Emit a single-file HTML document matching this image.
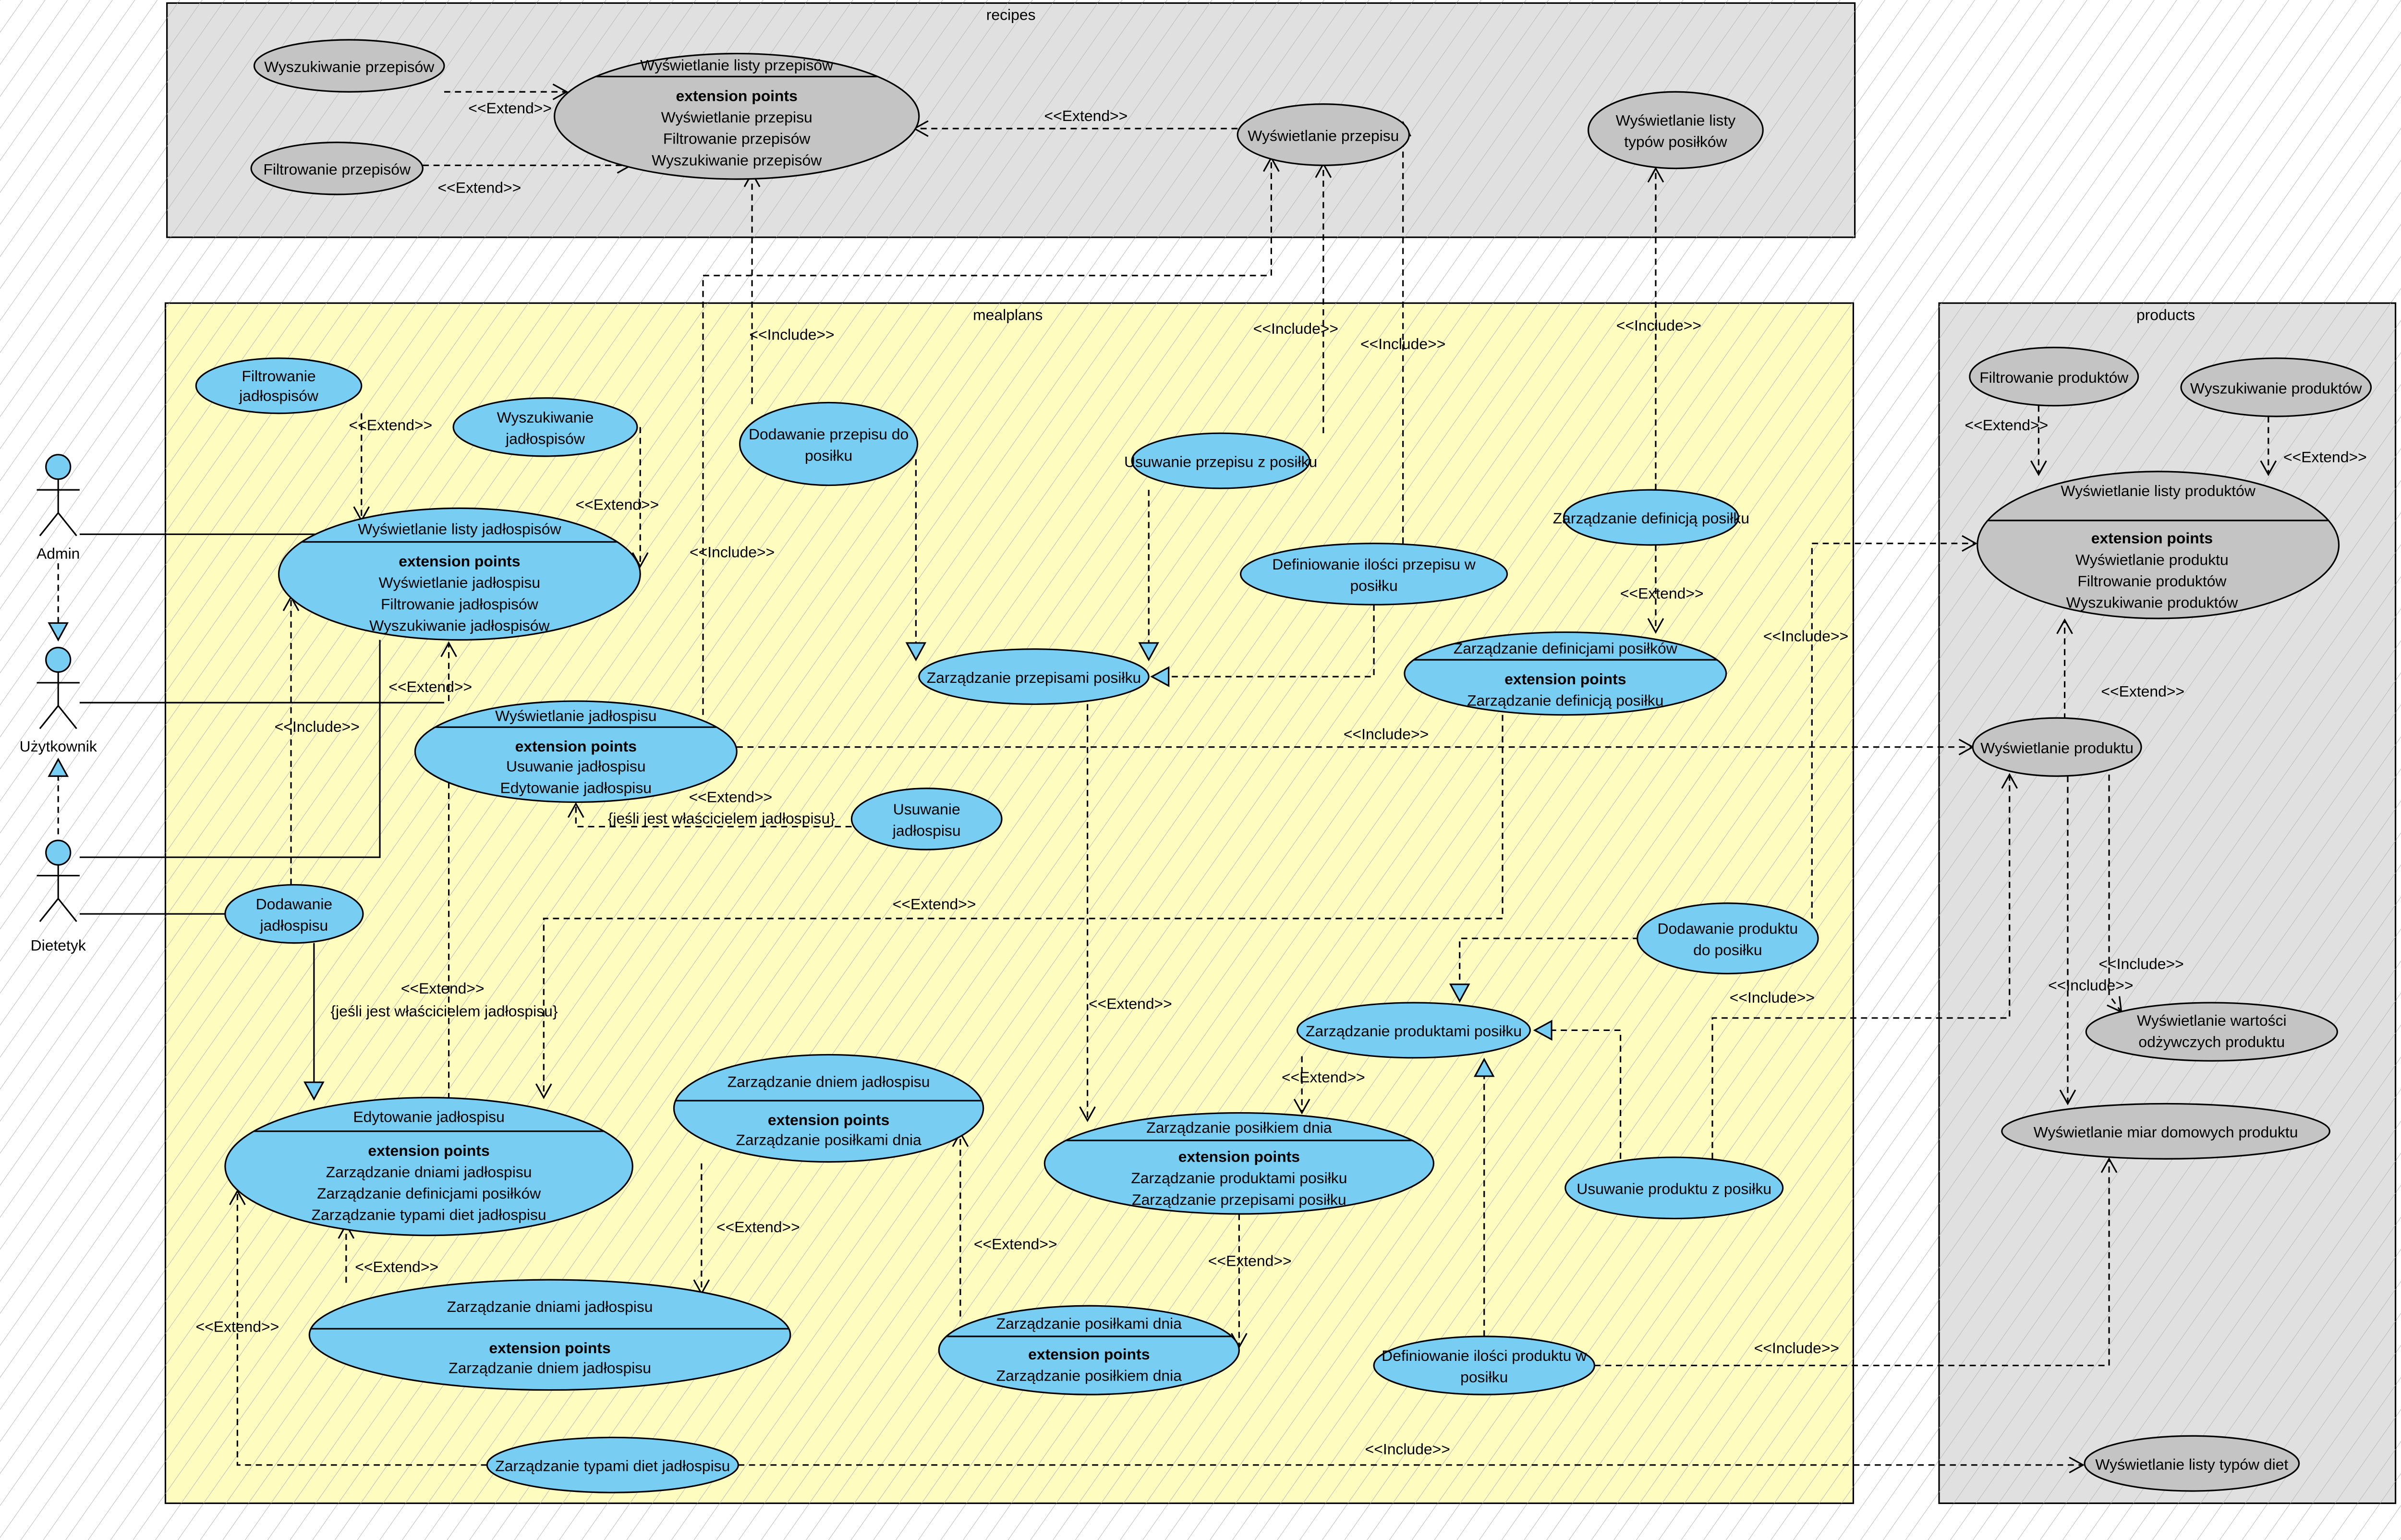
<!DOCTYPE html>
<html><head><meta charset="utf-8"><style>
html,body{margin:0;padding:0;background:#fff;}
svg{display:block;}
text{font-family:"Liberation Sans",Arial,sans-serif;font-size:10px;fill:#000;text-anchor:middle;}
.b{font-weight:bold;}
.l{stroke:#000;stroke-width:1;fill:none;}
.d{stroke:#000;stroke-width:1;fill:none;stroke-dasharray:4,3;}
.g{fill:#c4c4c4;stroke:#000;stroke-width:1;}
.u{fill:#77cdf2;stroke:#000;stroke-width:1;}
</style></head><body>
<svg width="5097" height="3207" viewBox="0 0 1598 1006" preserveAspectRatio="none" xmlns="http://www.w3.org/2000/svg">
<defs>
<pattern id="h" width="12" height="12" patternUnits="userSpaceOnUse" patternTransform="rotate(35)">
<line x1="0" y1="0" x2="0" y2="12" stroke="#b8b8b8" stroke-width="0.6"/>
</pattern>
<marker id="a" markerWidth="12" markerHeight="12" refX="10" refY="6" orient="auto" markerUnits="userSpaceOnUse">
<polyline points="1,1 10,6 1,11" fill="none" stroke="#000" stroke-width="1"/>
</marker>
<marker id="t" markerWidth="14" markerHeight="14" refX="12" refY="7" orient="auto" markerUnits="userSpaceOnUse">
<polygon points="1,1 12,7 1,13" fill="#77cdf2" stroke="#000" stroke-width="1"/>
</marker>
</defs>
<rect width="1600" height="1010" fill="#fff"/>
<rect width="1600" height="1010" fill="url(#h)"/>
<rect x="109" y="2" width="1102" height="153" fill="#e0e0e0" stroke="#000"/>
<rect x="109" y="2" width="1102" height="153" fill="url(#h)"/>
<text x="660" y="13">recipes</text>
<rect x="108" y="198" width="1102" height="784" fill="#fffcc0" stroke="#000"/>
<rect x="108" y="198" width="1102" height="784" fill="url(#h)"/>
<text x="658" y="209">mealplans</text>
<rect x="1266" y="198" width="298" height="784" fill="#e0e0e0" stroke="#000"/>
<rect x="1266" y="198" width="298" height="784" fill="url(#h)"/>
<text x="1414" y="209">products</text>

<g>
<path class="d" d="M290,60 H370" marker-end="url(#a)"/><text x="333" y="74">&lt;&lt;Extend&gt;&gt;</text>
<path class="d" d="M276,108 H412" marker-end="url(#a)"/><text x="313" y="126">&lt;&lt;Extend&gt;&gt;</text>
<path class="d" d="M808,84 H597" marker-end="url(#a)"/><text x="709" y="79">&lt;&lt;Extend&gt;&gt;</text>
<path class="d" d="M491,264 V113" marker-end="url(#a)"/><text x="517" y="222">&lt;&lt;Include&gt;&gt;</text>
<path class="d" d="M459,467 V180 H830 V103" marker-end="url(#a)"/>
<text x="478" y="364">&lt;&lt;Include&gt;&gt;</text>
<path class="d" d="M864,283 V107" marker-end="url(#a)"/><text x="846" y="218">&lt;&lt;Include&gt;&gt;</text>
<path class="d" d="M916,355 V80" marker-end="url(#a)"/><text x="916" y="228">&lt;&lt;Include&gt;&gt;</text>
<path class="d" d="M1081,320 V110" marker-end="url(#a)"/><text x="1083" y="216">&lt;&lt;Include&gt;&gt;</text>
<path class="d" d="M1081,356 V413" marker-end="url(#a)"/><text x="1085" y="391">&lt;&lt;Extend&gt;&gt;</text>
<path class="d" d="M236,270 V340" marker-end="url(#a)"/><text x="255" y="281">&lt;&lt;Extend&gt;&gt;</text>
<path class="d" d="M418,279 V370" marker-end="url(#a)"/><text x="403" y="333">&lt;&lt;Extend&gt;&gt;</text>
<path class="d" d="M598,300 V431" marker-end="url(#t)"/>
<path class="d" d="M750,320 V431" marker-end="url(#t)"/>
<path class="d" d="M897,395 V442 H752" marker-end="url(#t)"/>
<path class="d" d="M710,460 V732" marker-end="url(#a)"/><text x="738" y="659">&lt;&lt;Extend&gt;&gt;</text>
<path class="d" d="M481,488 H1288" marker-end="url(#a)"/><text x="905" y="483">&lt;&lt;Include&gt;&gt;</text>
<path class="d" d="M1183,600 V355 H1290" marker-end="url(#a)"/><text x="1179" y="419">&lt;&lt;Include&gt;&gt;</text>
<path class="d" d="M1348,470 V405" marker-end="url(#a)"/><text x="1399" y="455">&lt;&lt;Extend&gt;&gt;</text>
<path class="d" d="M1331,265 V310" marker-end="url(#a)"/><text x="1310" y="281">&lt;&lt;Extend&gt;&gt;</text>
<path class="d" d="M1481,272 V310" marker-end="url(#a)"/><text x="1518" y="302">&lt;&lt;Extend&gt;&gt;</text>
<path class="d" d="M1377,506 V650 L1385,661" marker-end="url(#a)"/><text x="1398" y="633">&lt;&lt;Include&gt;&gt;</text>
<path class="d" d="M1350,507 V721" marker-end="url(#a)"/><text x="1365" y="647">&lt;&lt;Include&gt;&gt;</text>
<path class="d" d="M1118,757 V665 H1312 V506" marker-end="url(#a)"/><text x="1157" y="655">&lt;&lt;Include&gt;&gt;</text>
<path class="d" d="M1058,757 V673 H1002" marker-end="url(#t)"/>
<path class="d" d="M1070,613 H953 V654" marker-end="url(#t)"/>
<path class="d" d="M969,873 V692" marker-end="url(#t)"/>
<path class="d" d="M1041,892 H1377 V757" marker-end="url(#a)"/><text x="1173" y="884">&lt;&lt;Include&gt;&gt;</text>
<path class="d" d="M850,690 V727" marker-end="url(#a)"/><text x="864" y="707">&lt;&lt;Extend&gt;&gt;</text>
<path class="d" d="M981,467 V600 H355 V717" marker-end="url(#a)"/><text x="610" y="594">&lt;&lt;Extend&gt;&gt;</text>
<path class="d" d="M293,718 V500" marker-end="url(#a)"/><text x="289" y="649">&lt;&lt;Extend&gt;&gt;</text><text x="290" y="664">{jeśli jest właścicielem jadłospisu}</text>
<path class="d" d="M293,458 V420" marker-end="url(#a)"/><text x="281" y="452">&lt;&lt;Extend&gt;&gt;</text>
<path class="d" d="M190,578 V390" marker-end="url(#a)"/><text x="207" y="478">&lt;&lt;Include&gt;&gt;</text>
<path class="l" d="M205,616 V718" marker-end="url(#t)"/>
<path class="d" d="M556,540 H376 V525" marker-end="url(#a)"/><text x="477" y="524">&lt;&lt;Extend&gt;&gt;</text><text x="471" y="538">{jeśli jest właścicielem jadłospisu}</text>
<path class="d" d="M458,760 V845" marker-end="url(#a)"/><text x="495" y="805">&lt;&lt;Extend&gt;&gt;</text>
<path class="d" d="M226,838 V800" marker-end="url(#a)"/><text x="259" y="831">&lt;&lt;Extend&gt;&gt;</text>
<path class="d" d="M627,860 V740" marker-end="url(#a)"/><text x="663" y="816">&lt;&lt;Extend&gt;&gt;</text>
<path class="d" d="M809,793 V880" marker-end="url(#a)"/><text x="816" y="827">&lt;&lt;Extend&gt;&gt;</text>
<path class="d" d="M318,957 H155 V778" marker-end="url(#a)"/><text x="155" y="870">&lt;&lt;Extend&gt;&gt;</text>
<path class="d" d="M482,957 H1360" marker-end="url(#a)"/><text x="919" y="950">&lt;&lt;Include&gt;&gt;</text>
<path class="l" d="M52,349 H248"/>
<path class="l" d="M52,459 H290"/>
<path class="l" d="M52,560 H248 V418"/>
<path class="l" d="M52,597 H148"/>
<path class="d" d="M38,368 V418" marker-end="url(#t)"/>
<path class="d" d="M38,545 V496" marker-end="url(#t)"/>
</g>

<g class="l">
<circle cx="38" cy="305" r="8" class="u"/><path class="l" d="M38,313 V335 M24,320 H52 M38,335 L26,350 M38,335 L50,350"/>
<circle cx="38" cy="431" r="8" class="u"/><path class="l" d="M38,439 V461 M24,446 H52 M38,461 L26,476 M38,461 L50,476"/>
<circle cx="38" cy="557" r="8" class="u"/><path class="l" d="M38,565 V587 M24,572 H52 M38,587 L26,602 M38,587 L50,602"/>
</g>
<text x="38" y="365">Admin</text>
<text x="38" y="491">Użytkownik</text>
<text x="38" y="621">Dietetyk</text>

<ellipse class="g" cx="228" cy="43" rx="62" ry="17"/><text x="228" y="47">Wyszukiwanie przepisów</text>
<ellipse class="g" cx="220" cy="110" rx="56" ry="17"/><text x="220" y="114">Filtrowanie przepisów</text>
<ellipse class="g" cx="481" cy="76" rx="119" ry="41"/><line class="l" x1="389" y1="50" x2="573" y2="50"/>
<text x="481" y="46">Wyświetlanie listy przepisów</text><text class="b" x="481" y="66">extension points</text><text x="481" y="80">Wyświetlanie przepisu</text><text x="481" y="94">Filtrowanie przepisów</text><text x="481" y="108">Wyszukiwanie przepisów</text>
<ellipse class="g" cx="864" cy="88" rx="56" ry="20"/><text x="864" y="92">Wyświetlanie przepisu</text>
<ellipse class="g" cx="1094" cy="85" rx="57" ry="25"/><text x="1094" y="82">Wyświetlanie listy</text><text x="1094" y="96">typów posiłków</text>

<ellipse class="u" cx="182" cy="252" rx="54" ry="18"/><text x="182" y="249">Filtrowanie</text><text x="182" y="262">jadłospisów</text>
<ellipse class="u" cx="356" cy="279" rx="60" ry="19"/><text x="356" y="276">Wyszukiwanie</text><text x="356" y="290">jadłospisów</text>
<ellipse class="u" cx="300" cy="375" rx="118" ry="43"/><line class="l" x1="197" y1="354" x2="403" y2="354"/>
<text x="300" y="349">Wyświetlanie listy jadłospisów</text><text class="b" x="300" y="370">extension points</text><text x="300" y="384">Wyświetlanie jadłospisu</text><text x="300" y="398">Filtrowanie jadłospisów</text><text x="300" y="412">Wyszukiwanie jadłospisów</text>
<ellipse class="u" cx="541" cy="290" rx="58" ry="27"/><text x="541" y="287">Dodawanie przepisu do</text><text x="541" y="301">posiłku</text>
<ellipse class="u" cx="797" cy="301" rx="58" ry="18"/><text x="797" y="305">Usuwanie przepisu z posiłku</text>
<ellipse class="u" cx="1078" cy="338" rx="57" ry="18"/><text x="1078" y="342">Zarządzanie definicją posiłku</text>
<ellipse class="u" cx="897" cy="375" rx="87" ry="20"/><text x="897" y="372">Definiowanie ilości przepisu w</text><text x="897" y="386">posiłku</text>
<ellipse class="u" cx="675" cy="442" rx="75" ry="18"/><text x="675" y="446">Zarządzanie przepisami posiłku</text>
<ellipse class="u" cx="1022" cy="440" rx="105" ry="27"/><line class="l" x1="923" y1="431" x2="1121" y2="431"/>
<text x="1022" y="427">Zarządzanie definicjami posiłków</text><text class="b" x="1022" y="447">extension points</text><text x="1022" y="461">Zarządzanie definicją posiłku</text>
<ellipse class="u" cx="376" cy="491" rx="105" ry="33"/><line class="l" x1="284" y1="475" x2="468" y2="475"/>
<text x="376" y="471">Wyświetlanie jadłospisu</text><text class="b" x="376" y="491">extension points</text><text x="376" y="504">Usuwanie jadłospisu</text><text x="376" y="518">Edytowanie jadłospisu</text>
<ellipse class="u" cx="605" cy="535" rx="49" ry="20"/><text x="605" y="532">Usuwanie</text><text x="605" y="546">jadłospisu</text>
<ellipse class="u" cx="192" cy="597" rx="45" ry="19"/><text x="192" y="594">Dodawanie</text><text x="192" y="608">jadłospisu</text>
<ellipse class="u" cx="1128" cy="613" rx="59" ry="23"/><text x="1128" y="610">Dodawanie produktu</text><text x="1128" y="624">do posiłku</text>
<ellipse class="u" cx="923" cy="673" rx="76" ry="18"/><text x="923" y="677">Zarządzanie produktami posiłku</text>
<ellipse class="u" cx="541" cy="724" rx="101" ry="35"/><line class="l" x1="441" y1="719" x2="641" y2="719"/>
<text x="541" y="710">Zarządzanie dniem jadłospisu</text><text class="b" x="541" y="735">extension points</text><text x="541" y="748">Zarządzanie posiłkami dnia</text>
<ellipse class="u" cx="280" cy="762" rx="133" ry="45"/><line class="l" x1="166" y1="739" x2="394" y2="739"/>
<text x="280" y="733">Edytowanie jadłospisu</text><text class="b" x="280" y="755">extension points</text><text x="280" y="769">Zarządzanie dniami jadłospisu</text><text x="280" y="783">Zarządzanie definicjami posiłków</text><text x="280" y="797">Zarządzanie typami diet jadłospisu</text>
<ellipse class="u" cx="809" cy="760" rx="127" ry="33"/><line class="l" x1="696" y1="745" x2="922" y2="745"/>
<text x="809" y="740">Zarządzanie posiłkiem dnia</text><text class="b" x="809" y="759">extension points</text><text x="809" y="773">Zarządzanie produktami posiłku</text><text x="809" y="787">Zarządzanie przepisami posiłku</text>
<ellipse class="u" cx="1093" cy="776" rx="71" ry="20"/><text x="1093" y="780">Usuwanie produktu z posiłku</text>
<ellipse class="u" cx="359" cy="872" rx="157" ry="36"/><line class="l" x1="203" y1="868" x2="515" y2="868"/>
<text x="359" y="857">Zarządzanie dniami jadłospisu</text><text class="b" x="359" y="884">extension points</text><text x="359" y="897">Zarządzanie dniem jadłospisu</text>
<ellipse class="u" cx="711" cy="882" rx="98" ry="29"/><line class="l" x1="618" y1="873" x2="804" y2="873"/>
<text x="711" y="868">Zarządzanie posiłkami dnia</text><text class="b" x="711" y="888">extension points</text><text x="711" y="902">Zarządzanie posiłkiem dnia</text>
<ellipse class="u" cx="969" cy="892" rx="72" ry="19"/><text x="969" y="889">Definiowanie ilości produktu w</text><text x="969" y="903">posiłku</text>
<ellipse class="u" cx="400" cy="957" rx="82" ry="18"/><text x="400" y="961">Zarządzanie typami diet jadłospisu</text>

<ellipse class="g" cx="1341" cy="246" rx="55" ry="19"/><text x="1341" y="250">Filtrowanie produktów</text>
<ellipse class="g" cx="1486" cy="253" rx="62" ry="19"/><text x="1486" y="257">Wyszukiwanie produktów</text>
<ellipse class="g" cx="1409" cy="356" rx="118" ry="48"/><line class="l" x1="1298" y1="340" x2="1520" y2="340"/>
<text x="1409" y="324">Wyświetlanie listy produktów</text><text class="b" x="1405" y="355">extension points</text><text x="1405" y="369">Wyświetlanie produktu</text><text x="1405" y="383">Filtrowanie produktów</text><text x="1405" y="397">Wyszukiwanie produktów</text>
<ellipse class="g" cx="1343" cy="488" rx="55" ry="19"/><text x="1343" y="492">Wyświetlanie produktu</text>
<ellipse class="g" cx="1444" cy="674" rx="82" ry="19"/><text x="1444" y="670">Wyświetlanie wartości</text><text x="1444" y="684">odżywczych produktu</text>
<ellipse class="g" cx="1414" cy="739" rx="107" ry="18"/><text x="1414" y="743">Wyświetlanie miar domowych produktu</text>
<ellipse class="g" cx="1431" cy="956" rx="70" ry="18"/><text x="1431" y="960">Wyświetlanie listy typów diet</text>
</svg>
</body></html>
